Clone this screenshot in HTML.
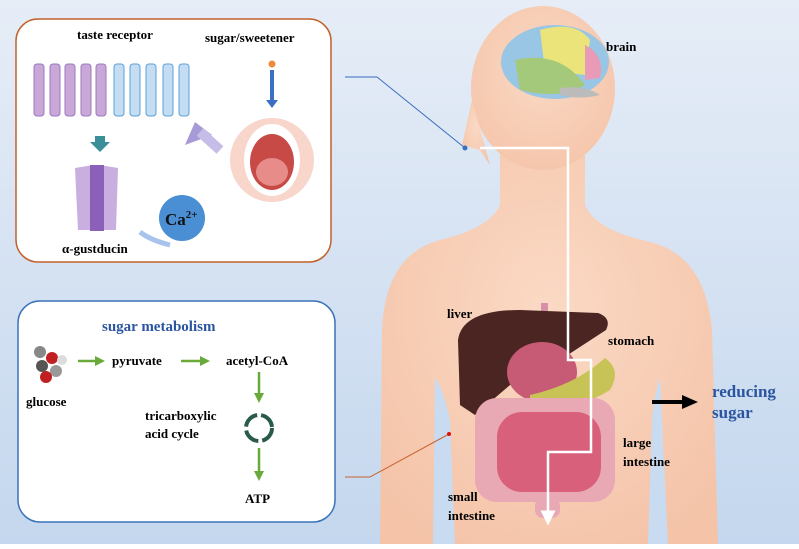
<!DOCTYPE html>
<html><head><meta charset="utf-8"><style>
html,body{margin:0;padding:0}
body{width:799px;height:544px;overflow:hidden;font-family:"Liberation Serif",serif;}
svg text{font-family:"Liberation Serif",serif;font-weight:bold}
</style></head><body>
<svg width="799" height="544" viewBox="0 0 799 544" xmlns="http://www.w3.org/2000/svg">
<defs>
<linearGradient id="bg" x1="0" y1="0" x2="0" y2="1"><stop offset="0" stop-color="#e6edf7"/><stop offset="1" stop-color="#c4d7ee"/></linearGradient>
<radialGradient id="skin" cx="0.5" cy="0.4" r="0.7"><stop offset="0" stop-color="#fbd9c4"/><stop offset="1" stop-color="#f4c3a8"/></radialGradient>
<marker id="ah" markerWidth="6" markerHeight="6" refX="3" refY="3" orient="auto"><path d="M0,0L6,3L0,6z" fill="#fff"/></marker>
<marker id="ag" markerWidth="4" markerHeight="4" refX="2" refY="2" orient="auto"><path d="M0,0L4,2L0,4z" fill="#6aaa3a"/></marker>
</defs>
<rect width="799" height="544" fill="url(#bg)"/>
<!-- body -->
<path d="M380,544 L382,330 Q385,255 440,240 Q490,228 500,205 L500,150 L585,150 L585,205 Q595,230 650,242 Q705,255 712,330 L718,544 Z" fill="url(#skin)"/>
<path d="M433,544 L435,378 Q442,385 450,420 L455,544Z" fill="#c8dbf0"/>
<path d="M668,544 L660,378 Q655,390 652,420 L648,544Z" fill="#c8dbf0"/>
<ellipse cx="543" cy="88" rx="72" ry="82" fill="url(#skin)"/>
<path d="M472,100 L462,145 L480,150 L490,165 Z" fill="url(#skin)"/>
<!-- brain -->
<ellipse cx="555" cy="62" rx="54" ry="37" fill="#9ac6e6"/>
<path d="M540,30 Q575,20 590,40 L585,75 L545,70Z" fill="#eae47a"/>
<path d="M515,60 Q560,50 585,85 Q560,100 520,90Z" fill="#a4c97a"/>
<path d="M585,45 Q605,55 600,78 L585,80Z" fill="#e99ab6"/>
<path d="M560,88 Q585,85 600,95 Q580,100 560,95Z" fill="#bbbbbb"/>
<!-- organs -->
<rect x="541" y="303" width="7" height="10" fill="#d890a8"/>
<path d="M458,340 Q462,310 520,310 L598,313 Q612,318 606,330 L560,360 L510,385 L475,415 L460,405Z" fill="#4a2522"/>
<ellipse cx="542" cy="372" rx="35" ry="30" fill="#c75a74"/>
<path d="M530,395 Q575,385 605,358 Q622,370 610,390 Q575,412 530,410Z" fill="#c7c357"/>
<rect x="475" y="398" width="140" height="104" rx="22" fill="#e8a8b4"/>
<rect x="497" y="412" width="104" height="80" rx="25" fill="#d9607a"/>
<rect x="535" y="498" width="25" height="20" rx="8" fill="#e8a8b4"/>
<!-- white path -->
<path d="M480,148 L568,148 L568,360 L591,360 L591,452 L548,452 L548,518" fill="none" stroke="#fff" stroke-width="2.5" marker-end="url(#ah)"/>
<!-- connectors -->
<path d="M345,77 L377,77 L465,148" fill="none" stroke="#3b6fc0" stroke-width="1"/>
<circle cx="465" cy="148" r="2.5" fill="#3b6fc0"/>
<path d="M345,477 L370,477 L449,434" fill="none" stroke="#c8642c" stroke-width="1"/>
<circle cx="449" cy="434" r="2" fill="#e01010"/>
<!-- black arrow -->
<path d="M652,402 L686,402" stroke="#000" stroke-width="4"/><path d="M682,395 L698,402 L682,409Z" fill="#000"/>
<text x="712" y="397" font-size="17" fill="#2b55a0">reducing</text>
<text x="712" y="418" font-size="17" fill="#2b55a0">sugar</text>
<text x="606" y="51" font-size="13">brain</text>
<text x="447" y="318" font-size="13">liver</text>
<text x="608" y="345" font-size="13">stomach</text>
<text x="623" y="447" font-size="13">large</text>
<text x="623" y="466" font-size="13">intestine</text>
<text x="448" y="501" font-size="13">small</text>
<text x="448" y="520" font-size="13">intestine</text>
<!-- top box -->
<rect x="16" y="19" width="315" height="243" rx="22" fill="#fff" stroke="#c0622a" stroke-width="1.5"/>
<text x="77" y="39" font-size="13">taste receptor</text>
<text x="205" y="42" font-size="13">sugar/sweetener</text>
<g fill="#c9a8d8" stroke="#9b78c0" stroke-width="1">
<rect x="34" y="64" width="10" height="52" rx="3"/><rect x="50" y="64" width="10" height="52" rx="3"/><rect x="65" y="64" width="10" height="52" rx="3"/><rect x="81" y="64" width="10" height="52" rx="3"/><rect x="96" y="64" width="10" height="52" rx="3"/>
</g>
<g fill="#c4ddf2" stroke="#5b9ed8" stroke-width="1">
<rect x="114" y="64" width="10" height="52" rx="3"/><rect x="130" y="64" width="10" height="52" rx="3"/><rect x="146" y="64" width="10" height="52" rx="3"/><rect x="163" y="64" width="10" height="52" rx="3"/><rect x="179" y="64" width="10" height="52" rx="3"/>
</g>
<path d="M90,142 L110,142 L100,152Z M95,136h10v6h-10z" fill="#3a8f98"/>
<path d="M75,168 L93,165 L93,230 L78,230Z M118,168 L100,165 L100,230 L116,230Z" fill="#c9aee0"/>
<rect x="90" y="165" width="14" height="66" fill="#8a60b8"/>
<path d="M140,232 Q150,240 170,245" stroke="#a8c4ec" stroke-width="5" fill="none"/>
<circle cx="182" cy="218" r="23" fill="#4a8ed4"/>
<text x="165" y="225" font-size="17" fill="#111">Ca<tspan font-size="11" dy="-7">2+</tspan></text>
<text x="62" y="253" font-size="13">α-gustducin</text>
<path d="M212,135 L185,145 L195,122 Z" fill="#a89ad6"/>
<path d="M200,132 L220,150" stroke="#c6bde8" stroke-width="10"/>
<circle cx="272" cy="64" r="3.5" fill="#ef8a3a"/>
<rect x="270" y="70" width="4" height="32" fill="#3b6fc0"/><path d="M266,100 L278,100 L272,108Z" fill="#3b6fc0"/>
<circle cx="272" cy="160" r="42" fill="#f8d6cc"/>
<ellipse cx="272" cy="160" rx="28" ry="36" fill="#fff"/>
<ellipse cx="272" cy="162" rx="22" ry="28" fill="#c84a46"/>
<ellipse cx="272" cy="172" rx="16" ry="14" fill="#e88c8a"/>
<!-- bottom box -->
<rect x="18" y="301" width="317" height="221" rx="22" fill="#fff" stroke="#3b72b8" stroke-width="1.5"/>
<text x="102" y="331" font-size="15" fill="#2b55a0">sugar metabolism</text>
<g><circle cx="40" cy="352" r="6" fill="#888"/><circle cx="52" cy="358" r="6" fill="#c02020"/><circle cx="42" cy="366" r="6" fill="#555"/><circle cx="56" cy="371" r="6" fill="#999"/><circle cx="46" cy="377" r="6" fill="#c02020"/><circle cx="62" cy="360" r="5" fill="#ddd"/></g>
<text x="26" y="406" font-size="13">glucose</text>
<path d="M78,361 L100,361" stroke="#6aaa3a" stroke-width="2.5" marker-end="url(#ag)"/>
<text x="112" y="365" font-size="13">pyruvate</text>
<path d="M181,361 L205,361" stroke="#6aaa3a" stroke-width="2.5" marker-end="url(#ag)"/>
<text x="226" y="365" font-size="13">acetyl-CoA</text>
<path d="M259,372 L259,398" stroke="#6aaa3a" stroke-width="2.5" marker-end="url(#ag)"/>
<text x="145" y="420" font-size="13">tricarboxylic</text>
<text x="145" y="438" font-size="13">acid cycle</text>
<circle cx="259" cy="428" r="13" fill="none" stroke="#2a5a4a" stroke-width="4" stroke-dasharray="17 4"/>
<path d="M259,448 L259,476" stroke="#6aaa3a" stroke-width="2.5" marker-end="url(#ag)"/>
<text x="245" y="503" font-size="13">ATP</text>
</svg>
</body></html>
